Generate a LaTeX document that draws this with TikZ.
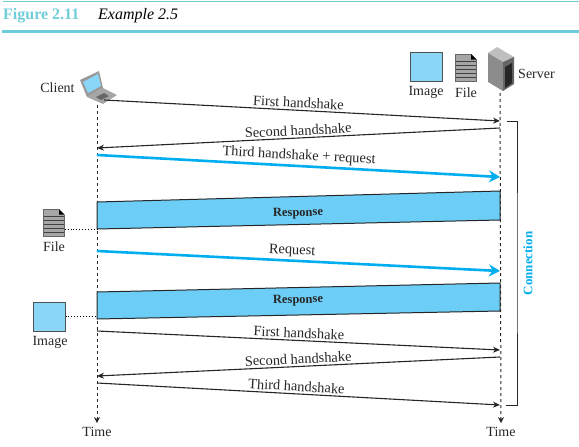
\documentclass[tikz,border=0pt]{standalone}
\usepackage{fontspec}
\usetikzlibrary{arrows.meta}
\setmainfont{Liberation Serif}
\definecolor{capteal}{HTML}{6FCDD9}
\definecolor{netblue}{HTML}{00AEEF}
\definecolor{bandblue}{HTML}{6CCEF6}
\definecolor{imgblue}{HTML}{8AD6F8}
\definecolor{inkline}{HTML}{262626}
\tikzset{
   lbl/.style={font=\fontsize{14}{16}\selectfont,text=inkline,inner sep=0pt},
   msg/.style={line width=1.1pt,draw=inkline,-{Stealth[length=7pt,width=6pt]}},
   msgblue/.style={line width=2.6pt,draw=netblue,-{Stealth[length=11pt,width=12pt]}},
   msgtxt/.style={lbl,font=\fontsize{14.4}{16}\selectfont,sloped,above=2pt},
   lifeline/.style={line width=1pt,draw=inkline,dash pattern=on 3pt off 3pt,-{Stealth[length=6pt,width=6pt]}},
   band/.style={draw=inkline,line width=1pt,fill=bandblue},
   imgbox/.style={draw=inkline!80,line width=1pt,fill=imgblue,minimum width=32pt,minimum height=29pt,inner sep=0pt},
   fileicon/.pic={
      \node (-box) [minimum width=21pt,minimum height=27pt,inner sep=0pt] {} ;
      \fill [black!35] (-10.5,-13.5) -- (5,-13.5) -- (10.5,-8) -- (10.5,13.5) -- (-10.5,13.5) -- cycle ;
      \fill [black] (5,-13.5) -- (10.5,-8) -- (5,-8) -- cycle ;
      \foreach \yy in {-6,-2,2,6,10} {
         \draw [black!75,line width=1.3pt] (-10.5,\yy) -- (10.5,\yy) ;
      }
      \draw [black!60,line width=0.8pt] (5,-13.5) -- (-10.5,-13.5) -- (-10.5,13.5) -- (10.5,13.5) -- (10.5,-8) ;
   }
}
\begin{document}
\begin{tikzpicture}[x=1pt,y=-1pt]
   \useasboundingbox (0,0) rectangle (579,447) ;

   % caption
   \fill [capteal] (3,1) rectangle (579,2) ;
   \fill [capteal] (2,30) rectangle (579,33) ;
   \node (fig) [anchor=west,inner sep=0pt,text=capteal,font=\fontsize{16}{18}\selectfont\bfseries] at (3,16) {Figure 2.11} ;
   \node (ex) [anchor=west,inner sep=0pt,font=\fontsize{16}{18}\selectfont\itshape] at (98,16) {Example 2.5} ;

   % client
   \fill [black!35] (87,97) -- (103,88) -- (117,95) -- (103,104) -- cycle ;
   \fill [black!60] (96,97) -- (104,93) -- (109,96) -- (101,100) -- cycle ;
   \fill [black!40] (80,80) -- (99,71) -- (103,88) -- (87,97) -- cycle ;
   \fill [imgblue] (83,82) -- (98,74) -- (101,86) -- (88,93) -- cycle ;
   \node (client) [lbl] at (57.5,87.5) {Client} ;
   \coordinate (laptop) at (104,100) ;

   % server
   \fill [black!25] (488,53) -- (497,47) -- (514,57) -- (503,62) -- cycle ;
   \fill [black!45] (488,53) -- (503,62) -- (503,91) -- (488,82) -- cycle ;
   \fill [black!60] (503,62) -- (514,57) -- (514,84) -- (503,91) -- cycle ;
   \fill [black!85] (505,67) -- (512,63) -- (512,83) -- (505,88) -- cycle ;
   \node (server) [lbl] at (536.5,74) {Server} ;
   \node (imgtop) [imgbox] at (426,66.5) {} ;
   \node (imgtoplbl) [lbl] at (426,92.5) {Image} ;
   \pic (filetop) at (466,67.5) {fileicon} ;
   \node (filetoplbl) [lbl] at (466,92.5) {File} ;

   % time lines
   \coordinate (c0) at (97,105) ;
   \coordinate (s0) at (500,93) ;
   \node (timec) [lbl] at (97,432) {Time} ;
   \node (times) [lbl] at (501,432) {Time} ;
   \draw [lifeline,shorten >=4pt] (c0) -- (timec.north) ;
   \draw [lifeline,shorten >=4pt] (s0) -- (times.north) ;

   % points on the time lines
   \coordinate (s1) at (500,121) ;
   \coordinate (s2) at (500,128) ;
   \coordinate (c2) at (97,148) ;
   \coordinate (c3) at (97,155) ;
   \coordinate (s3) at (500,177) ;
   \coordinate (c4) at (97,251) ;
   \coordinate (s4) at (500,271) ;
   \coordinate (c5) at (97,331) ;
   \coordinate (s5) at (500,350) ;
   \coordinate (s6) at (500,357) ;
   \coordinate (c6) at (97,376) ;
   \coordinate (c7) at (97,383) ;
   \coordinate (s7) at (500,405) ;
   \coordinate (ra) at (97,202) ;
   \coordinate (rb) at (500,191) ;
   \coordinate (rc) at (500,220) ;
   \coordinate (rd) at (97,229) ;
   \coordinate (qa) at (97,292) ;
   \coordinate (qb) at (500,283) ;
   \coordinate (qc) at (500,311) ;
   \coordinate (qd) at (97,319) ;

   \draw [msg] (laptop) -- node (m1) [msgtxt,pos=0.49] {First handshake} (s1) ;
   \draw [msg] (s2) -- node (m2) [msgtxt] {Second handshake} (c2) ;
   \draw [msgblue] (c3) -- node (m3) [msgtxt] {Third handshake + request} (s3) ;
   \draw [msgblue] (c4) -- node (m4) [msgtxt,pos=0.483] {Request} (s4) ;
   \draw [msg] (c5) -- node (m5) [msgtxt] {First handshake} (s5) ;
   \draw [msg] (s6) -- node (m6) [msgtxt] {Second handshake} (c6) ;
   \draw [msg] (c7) -- node (m7) [msgtxt,pos=0.494] {Third handshake} (s7) ;

   \draw [band] (ra) -- (rb) -- (rc) -- (rd) -- cycle ;
   \draw [band] (qa) -- (qb) -- (qc) -- (qd) -- cycle ;
   \node (resp1) [lbl,rotate=1.5,font=\fontsize{12.5}{15}\selectfont\bfseries] at (298,213.5) {Response} ;
   \node (resp2) [lbl,rotate=1.5,font=\fontsize{12.5}{15}\selectfont\bfseries] at (298,300.5) {Response} ;

   % left objects
   \pic (fileleft) at (54,222.5) {fileicon} ;
   \node (fileleftlbl) [lbl] at (54,247) {File} ;
   \node (imgleft) [imgbox] at (49,316.5) {} ;
   \node (imgleftlbl) [lbl] at (50,342.5) {Image} ;
   \draw [dotted,line width=0.9pt] (fileleft-box.east |- rd) -- (rd) ;
   \draw [dotted,line width=0.9pt] (imgleft.east) -- (97,316.5) ;

   % connection bracket
   \coordinate (bk1) at (507,121) ;
   \coordinate (bk2) at (506,405) ;
   \coordinate (bk3) at (517,263) ;
   \draw [line width=1pt,draw=inkline] (bk1) -| (bk3) |- (bk2) ;
   \node (conn) [lbl,rotate=90,text=netblue,font=\fontsize{13}{15}\selectfont\bfseries] at (528,263.5) {Connection} ;

\end{tikzpicture}
\end{document}
